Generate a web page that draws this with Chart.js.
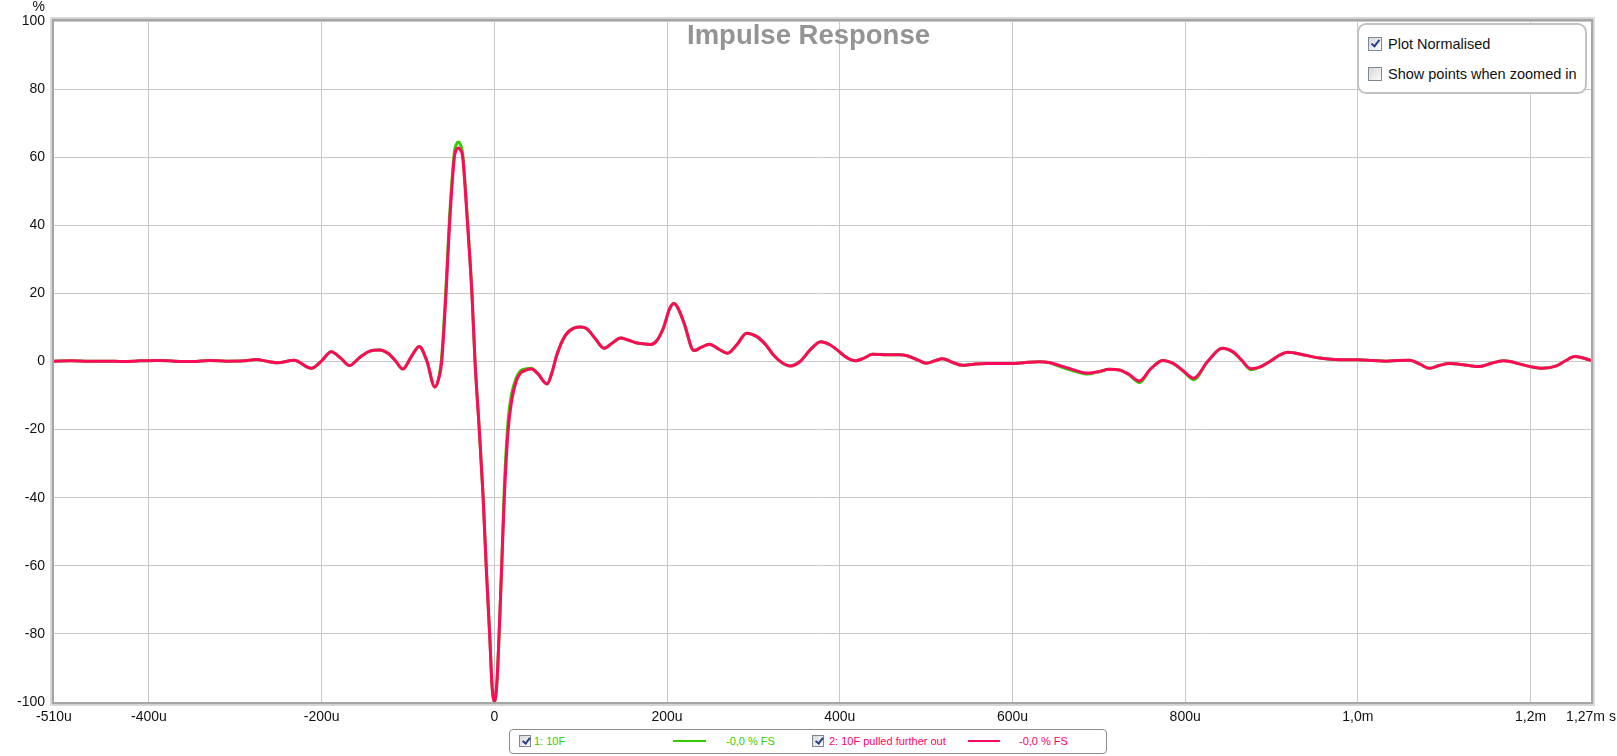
<!DOCTYPE html>
<html>
<head>
<meta charset="utf-8">
<title>Impulse Response</title>
<script src="https://cdn.jsdelivr.net/npm/chart.js@4.4.0/dist/chart.umd.min.js"></script>
<style>
  html, body { margin: 0; padding: 0; background: #fff; }
  #wrap { position: relative; width: 1617px; height: 756px; overflow: hidden;
          font-family: "Liberation Sans", Arial, sans-serif; }
  #irChart { position: absolute; left: 0; top: 0; }
  .box { position: absolute; background: #fff; box-sizing: border-box; }
  #opts { left: 1357px; top: 23px; width: 230px; height: 71px; border: 2px solid #c2c2c2; border-radius: 9px; }
  #leg { left: 509px; top: 729px; width: 598px; height: 25px; border: 1px solid #8c8c8c; border-radius: 4px; }
  .cb { position: absolute; box-sizing: border-box; border: 1px solid #7b8896;
        background: linear-gradient(135deg, #d8d8d8, #fbfbfb); }
  .cb.on::after { content: ""; position: absolute; left: 35%; top: 2%; width: 25%; height: 58%;
        border: solid #2b3f8c; border-width: 0 2px 2px 0; transform: rotate(38deg); }
  .txt { position: absolute; white-space: nowrap; }
  .opt { font-size: 14.5px; line-height: 18px; color: #111; }
  .lg { font-size: 11px; line-height: 14px; }
  .ln { position: absolute; height: 2px; }
</style>
</head>
<body>
<div id="wrap">
  <canvas id="irChart" width="1617" height="756"></canvas>

  <div class="box" id="opts"></div>
  <span class="cb on" style="left:1368px;top:37px;width:14px;height:14px"></span>
  <span class="txt opt" style="left:1388px;top:35px">Plot Normalised</span>
  <span class="cb" style="left:1368px;top:67px;width:14px;height:14px"></span>
  <span class="txt opt" style="left:1388px;top:65px">Show points when zoomed in</span>

  <div class="box" id="leg"></div>
  <span class="cb on" style="left:519px;top:735px;width:12px;height:12px"></span>
  <span class="txt lg" id="lg1" style="left:534px;top:734px;color:#33cc00"></span>
  <span class="ln" style="left:673px;top:740px;width:33px;background:#33cc00"></span>
  <span class="txt lg" id="lg1v" style="left:726px;top:734px;color:#33cc00"></span>
  <span class="cb on" style="left:812px;top:735px;width:12px;height:12px"></span>
  <span class="txt lg" id="lg2" style="left:829px;top:734px;color:#ff0066"></span>
  <span class="ln" style="left:968px;top:740px;width:32px;background:#ff0a5a"></span>
  <span class="txt lg" id="lg2v" style="left:1019px;top:734px;color:#ff0066"></span>
</div>

<script>
// Datos de la respuesta al impulso (tiempo en microsegundos, amplitud en %)
var seriesNames = ['1: 10F', '2: 10F pulled further out'];
var seriesLevels = ['-0,0 % FS', '-0,0 % FS'];

var timeUs = [
  -510, -490, -470, -450, -430, -410, -390, -370, -350, -330, -310, -290,
  -276, -262, -251, -232, -212, -200, -189, -178, -168, -156, -145, -133,
  -122, -114, -106, -96, -87, -78, -69, -65, -61, -56, -52, -46.3,
  -44, -41.7, -39.5, -36.7, -31, -26, -22.4, -17.5, -13, -9.5, -5.5, -2.5,
  0, 3, 5.5, 8.5, 11.5, 16, 20, 25, 30, 36, 43, 50,
  61, 67, 72, 82, 92, 100, 107, 116, 127, 137, 146, 155,
  163, 172, 181, 188, 196, 203, 208, 213, 220, 231, 240, 249,
  260, 270, 281, 292, 304, 314, 324, 334, 343, 354, 366, 378,
  388, 397, 407, 418, 428, 438, 455, 469, 478, 490, 500, 510,
  519, 531, 542, 555, 570, 585, 600, 615, 631, 642, 655, 670,
  687, 700, 712, 724, 735, 747, 760, 774, 787, 798, 810, 826,
  843, 855, 865, 876, 887, 898, 909, 919, 936, 956, 979, 1000,
  1017, 1033, 1046, 1060, 1072, 1083, 1095, 1106, 1124, 1141, 1155, 1168,
  1178, 1187, 1200, 1214, 1230, 1241, 1251, 1260, 1270
];

// 1: 10F (verde)
var ir10F = [
  0.1, 0.2, 0.1, 0.1, 0.0, 0.2, 0.3, 0.1, 0.0, 0.3, 0.1, 0.2,
  0.6, 0.0, -0.4, 0.4, -2.0, 0.2, 2.9, 1.0, -1.2, 1.2, 3.0, 3.4,
  2.2, 0.0, -2.2, 1.5, 4.4, 0.0, -7.5, -5.5, 1.5, 22, 42, 61.5,
  63.8, 64.5, 63.8, 61, 41, 20, 0, -20, -40, -60, -80, -96,
  -100, -94, -80, -60, -37, -17, -9.5, -5, -2.8, -2.2, -2.0, -3.5,
  -6.6, -3, 1.7, 7.6, 9.8, 10.1, 9.6, 7, 3.9, 5.5, 6.9, 6.3,
  5.6, 5.2, 5.0, 6.1, 10, 15.5, 17, 15.5, 11, 3.2, 4.2, 5.1,
  3.6, 2.4, 5, 8.3, 7.3, 5, 1.7, -0.5, -1.3, 0, 3.5, 5.8,
  5, 3.4, 1.3, 0.2, 1.0, 2.1, 2.0, 2.0, 1.7, 0.5, -0.5, 0.2,
  0.8, -0.3, -1.1, -0.8, -0.6, -0.6, -0.6, -0.3, -0.1, -0.3, -1.5, -2.7,
  -3.7, -3.0, -2.3, -2.5, -3.9, -6.2, -2.2, 0.3, -0.7, -2.9, -5.3, 0,
  3.9, 2.9, 0.5, -2.4, -1.6, 0, 1.8, 2.7, 2.0, 1.0, 0.5, 0.5,
  0.3, 0.1, 0.3, 0.4, -0.8, -2.0, -1.1, -0.6, -1.0, -1.5, -0.5, 0.2,
  -0.1, -0.7, -1.5, -2.0, -1.3, 0.3, 1.5, 1.1, 0.3
];

// 2: 10F pulled further out (rojo)
var ir10FOut = [
  0.1, 0.2, 0.1, 0.1, 0.0, 0.2, 0.3, 0.1, 0.0, 0.3, 0.1, 0.2,
  0.6, 0.0, -0.4, 0.4, -2.0, 0.2, 2.9, 1.0, -1.2, 1.2, 3.0, 3.4,
  2.2, 0.0, -2.2, 1.5, 4.4, 0.0, -7.5, -5.5, 0, 20, 40, 60,
  62.2, 62.7, 62.2, 60, 40, 20, 0, -20, -40, -60, -80, -96,
  -100, -94, -80, -60, -40, -20, -11.5, -6, -3.5, -2.6, -2.2, -3.5,
  -6.6, -3, 1.7, 7.6, 9.8, 10.1, 9.6, 7, 3.9, 5.5, 6.9, 6.3,
  5.6, 5.2, 5.0, 6.1, 10, 15.5, 17, 15.5, 11, 3.2, 4.2, 5.1,
  3.6, 2.4, 5, 8.3, 7.3, 5, 1.7, -0.5, -1.3, 0, 3.5, 5.8,
  5, 3.4, 1.3, 0.2, 1.0, 2.1, 2.0, 2.0, 1.7, 0.5, -0.5, 0.2,
  0.8, -0.3, -1.1, -0.8, -0.6, -0.6, -0.6, -0.3, -0.1, -0.3, -1.2, -2.4,
  -3.4, -3.0, -2.3, -2.5, -3.8, -5.7, -2.2, 0.3, -0.7, -2.8, -4.9, 0,
  3.9, 2.9, 0.5, -2.1, -1.6, 0, 1.8, 2.7, 2.0, 1.0, 0.5, 0.5,
  0.3, 0.1, 0.3, 0.4, -0.8, -2.0, -1.1, -0.6, -1.0, -1.5, -0.5, 0.2,
  -0.1, -0.7, -1.5, -2.0, -1.3, 0.3, 1.5, 1.1, 0.3
];

// Ejes
var xTickValues = [-510, -400, -200, 0, 200, 400, 600, 800, 1000, 1200, 1270];
var xTickLabels = ['-510u', '-400u', '-200u', '0', '200u', '400u', '600u', '800u', '1,0m', '1,2m', '1,27m s'];
var yTickValues = [100, 80, 60, 40, 20, 0, -20, -40, -60, -80, -100];

document.getElementById('lg1').textContent = seriesNames[0];
document.getElementById('lg1v').textContent = seriesLevels[0];
document.getElementById('lg2').textContent = seriesNames[1];
document.getElementById('lg2v').textContent = seriesLevels[1];

function toPoints(vals) {
  return timeUs.map(function (t, i) { return { x: t, y: vals[i] }; });
}

// marco gris, titulo y unidad "%"
var marcoPlugin = {
  id: 'marco',
  afterDraw: function (chart) {
    var ctx = chart.ctx, a = chart.chartArea;
    ctx.save();
    ctx.strokeStyle = '#dadada';
    ctx.lineWidth = 1;
    ctx.strokeRect(a.left - 3.5, a.top - 3.5, a.right - a.left + 7, a.bottom - a.top + 7);
    ctx.strokeStyle = '#a6a6a6';
    ctx.lineWidth = 2.5;
    ctx.strokeRect(a.left - 1.25, a.top - 1.25, a.right - a.left + 2.5, a.bottom - a.top + 2.5);

    ctx.fillStyle = '#949494';
    ctx.font = 'bold 27.5px "Liberation Sans", Arial, sans-serif';
    ctx.textAlign = 'center';
    ctx.textBaseline = 'middle';
    ctx.fillText('Impulse Response', chart.width / 2, 36);

    ctx.fillStyle = '#111';
    ctx.font = '14px "Liberation Sans", Arial, sans-serif';
    ctx.textAlign = 'right';
    ctx.fillText('%', 45, 7);
    ctx.restore();
  }
};

var gridColor = '#c8c8c8';

var irConfig = {
  type: 'line',
  data: {
    datasets: [{
      label: seriesNames[0],
      data: toPoints(ir10F),
      borderColor: '#33cc00',
      borderWidth: 3,
      pointRadius: 0,
      cubicInterpolationMode: 'monotone',
      order: 2
    }, {
      label: seriesNames[1],
      data: toPoints(ir10FOut),
      borderColor: '#ff0a5a',
      borderWidth: 3,
      pointRadius: 0,
      cubicInterpolationMode: 'monotone',
      order: 1
    }]
  },
  options: {
    responsive: false,
    animation: false,
    devicePixelRatio: 1,
    layout: { padding: { left: 0, top: 21, right: 26, bottom: 0 } },
    plugins: { legend: { display: false }, tooltip: { enabled: false }, title: { display: false } },
    scales: {
      x: {
        type: 'linear',
        min: -510,
        max: 1270,
        afterBuildTicks: function (scale) {
          scale.ticks = xTickValues.map(function (v) { return { value: v }; });
        },
        afterFit: function (scale) {
          scale.height = 54;
          scale.paddingLeft = 0;
          scale.paddingRight = 0;
        },
        ticks: {
          autoSkip: false,
          maxRotation: 0,
          padding: 7,
          color: '#111',
          font: { family: '"Liberation Sans", Arial, sans-serif', size: 14 },
          callback: function (value, index) { return xTickLabels[index]; }
        },
        grid: {
          drawTicks: false,
          color: function (c) {
            return (c.tick && (c.tick.value === -510 || c.tick.value === 1270)) ? 'rgba(0,0,0,0)' : gridColor;
          }
        },
        border: { display: false }
      },
      y: {
        min: -100,
        max: 100,
        afterBuildTicks: function (scale) {
          scale.ticks = yTickValues.map(function (v) { return { value: v }; });
        },
        afterFit: function (scale) {
          scale.width = 54;
          scale.paddingTop = 0;
          scale.paddingBottom = 0;
        },
        ticks: {
          padding: 9,
          color: '#111',
          font: { family: '"Liberation Sans", Arial, sans-serif', size: 14 }
        },
        grid: { drawTicks: false, color: gridColor },
        border: { display: false }
      }
    }
  },
  plugins: [marcoPlugin]
};

var ctxIR = document.getElementById('irChart').getContext('2d');
var irChart = new Chart(ctxIR, irConfig);
</script>
</body>
</html>
